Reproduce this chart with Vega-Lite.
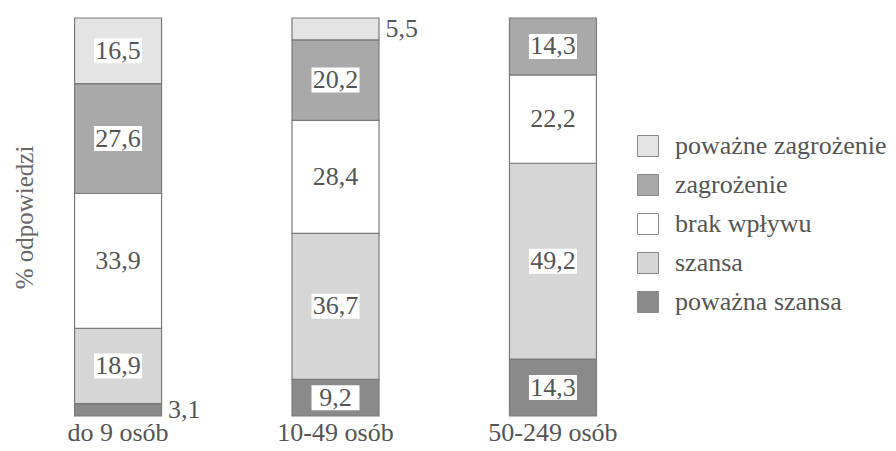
{
  "$schema": "https://vega.github.io/schema/vega-lite/v6.json",
  "autosize": {"type": "none"},
  "padding": {"left": 50, "top": 18, "right": 275, "bottom": 35},
  "width": 571,
  "height": 398,
  "background": "white",
  "config": {
    "font": "Liberation Serif",
    "view": {"stroke": null},
    "locale": {"number": {"decimal": ",", "thousands": " ", "grouping": [3], "currency": ["", " zł"]}}
  },
  "data": {
    "values": [
      {"firma": "do 9 osób", "ocena": "poważna szansa", "kol": 1, "pct": 3.1},
      {"firma": "do 9 osób", "ocena": "szansa", "kol": 2, "pct": 18.9},
      {"firma": "do 9 osób", "ocena": "brak wpływu", "kol": 3, "pct": 33.9},
      {"firma": "do 9 osób", "ocena": "zagrożenie", "kol": 4, "pct": 27.6},
      {"firma": "do 9 osób", "ocena": "poważne zagrożenie", "kol": 5, "pct": 16.5},
      {"firma": "10-49 osób", "ocena": "poważna szansa", "kol": 1, "pct": 9.2},
      {"firma": "10-49 osób", "ocena": "szansa", "kol": 2, "pct": 36.7},
      {"firma": "10-49 osób", "ocena": "brak wpływu", "kol": 3, "pct": 28.4},
      {"firma": "10-49 osób", "ocena": "zagrożenie", "kol": 4, "pct": 20.2},
      {"firma": "10-49 osób", "ocena": "poważne zagrożenie", "kol": 5, "pct": 5.5},
      {"firma": "50-249 osób", "ocena": "poważna szansa", "kol": 1, "pct": 14.3},
      {"firma": "50-249 osób", "ocena": "szansa", "kol": 2, "pct": 49.2},
      {"firma": "50-249 osób", "ocena": "brak wpływu", "kol": 3, "pct": 22.2},
      {"firma": "50-249 osób", "ocena": "zagrożenie", "kol": 4, "pct": 14.3}
    ]
  },
  "transform": [
    {"stack": "pct", "groupby": ["firma"], "sort": [{"field": "kol", "order": "ascending"}], "as": ["y0", "y1"]},
    {"calculate": "(datum.y0 + datum.y1) / 2", "as": "ymid"}
  ],
  "encoding": {
    "x": {
      "field": "firma",
      "type": "nominal",
      "sort": ["do 9 osób", "10-49 osób", "50-249 osób"],
      "scale": {"paddingInner": 0.6, "paddingOuter": 0.113},
      "axis": {
        "title": null,
        "domain": false,
        "ticks": false,
        "labelAngle": 0,
        "labelFont": "Liberation Serif",
        "labelFontSize": 26,
        "labelColor": "#555555",
        "labelPadding": 3
      }
    }
  },
  "layer": [
    {
      "mark": {"type": "bar", "stroke": "#7a7a7a", "strokeWidth": 1.2},
      "encoding": {
        "y": {
          "field": "y0",
          "type": "quantitative",
          "scale": {"domain": [0, 100], "nice": false},
          "axis": {
            "title": "% odpowiedzi",
            "titleFont": "Liberation Serif",
            "titleFontSize": 25,
            "titleFontWeight": "normal",
            "titleColor": "#666666",
            "titlePadding": 13,
            "domain": false,
            "ticks": false,
            "labels": false,
            "grid": false
          }
        },
        "y2": {"field": "y1"},
        "color": {
          "field": "ocena",
          "type": "nominal",
          "scale": {
            "domain": ["poważne zagrożenie", "zagrożenie", "brak wpływu", "szansa", "poważna szansa"],
            "range": ["#e4e4e4", "#a9a9a9", "#ffffff", "#d6d6d6", "#8a8a8a"]
          },
          "legend": {
            "title": null,
            "orient": "none",
            "legendX": 585,
            "legendY": 115,
            "symbolType": "square",
            "symbolSize": 441,
            "symbolStrokeColor": "#8a8a8a",
            "symbolStrokeWidth": 1,
            "symbolOpacity": 1,
            "labelFont": "Liberation Serif",
            "labelFontSize": 26,
            "labelColor": "#555555",
            "labelOffset": 14,
            "rowPadding": 13,
            "labelLimit": 400
          }
        }
      }
    },
    {
      "transform": [{"filter": "datum.pct >= 6"}],
      "mark": {"type": "point", "shape": "M-1,-0.52H1V0.52H-1Z", "filled": true, "fill": "#ffffff", "opacity": 1, "size": 2304, "strokeWidth": 0},
      "encoding": {"y": {"field": "ymid", "type": "quantitative"}}
    },
    {
      "transform": [{"filter": "datum.pct >= 6"}],
      "mark": {"type": "text", "font": "Liberation Serif", "fontSize": 26, "color": "#555555", "baseline": "middle", "align": "center"},
      "encoding": {
        "y": {"field": "ymid", "type": "quantitative"},
        "text": {"field": "pct", "type": "quantitative", "format": ".1f"}
      }
    },
    {
      "transform": [{"filter": "datum.pct < 6"}],
      "mark": {"type": "text", "font": "Liberation Serif", "fontSize": 26, "color": "#555555", "baseline": "middle", "align": "left", "dx": 50},
      "encoding": {
        "y": {"field": "ymid", "type": "quantitative"},
        "text": {"field": "pct", "type": "quantitative", "format": ".1f"}
      }
    }
  ]
}
